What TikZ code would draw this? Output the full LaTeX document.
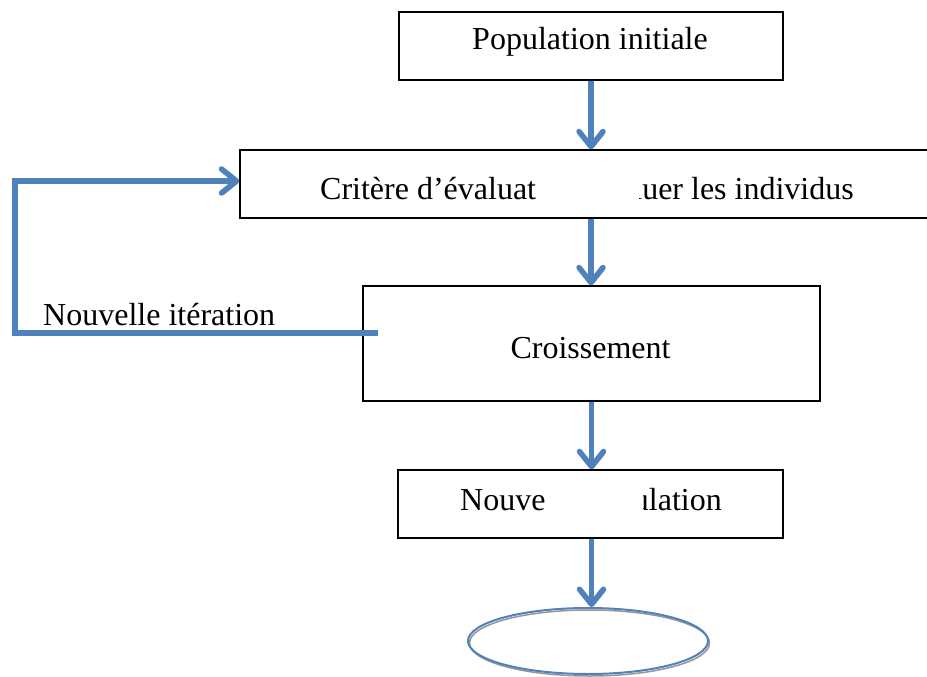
\documentclass[tikz,border=0pt]{standalone}
\usepackage{fontspec}
\setmainfont{Liberation Serif}
\usetikzlibrary{arrows.meta,shapes.geometric}
\definecolor{arrowblue}{RGB}{79,129,189}
\definecolor{shadowgray}{RGB}{150,150,150}
\tikzset{
  box/.style={draw=black, line width=1.5pt, fill=white, rectangle, inner sep=0pt},
  txt/.style={inner sep=0pt, font=\fontsize{32}{38}\selectfont},
  flow/.style={draw=arrowblue, line width=5.5pt,
    -{Straight Barb[length=15pt,width=24pt,line cap=round,line join=round]},
    preaction={draw=shadowgray, transform canvas={shift={(1.8pt,-2pt)}}}},
  loopline/.style={draw=arrowblue, line width=5.5pt,
    preaction={draw=shadowgray, transform canvas={shift={(1.8pt,-2pt)}}}},
}
\begin{document}
\begin{tikzpicture}[x=1pt,y=-1pt]
\useasboundingbox (0,0) rectangle (927,677);
\clip (0,0) rectangle (927,677);
\fill[white] (0,0) rectangle (927,677);

% boxes
\node[box, minimum width=384, minimum height=68] (pop) at (591,46) {};
\node[box, minimum width=740, minimum height=68] (crit) at (610,184) {};
\node[box, minimum width=457, minimum height=115] (sel) at (591.5,343.5) {};
\node[box, minimum width=385, minimum height=68] (nouv) at (590.5,504) {};
\node[ellipse, draw=arrowblue, line width=2pt, minimum width=240, minimum height=66, inner sep=0pt,
  preaction={draw=shadowgray, line width=1.5pt, transform canvas={shift={(1.5pt,-2pt)}}}] (fin) at (588,641) {};

% texts
\node[txt, anchor=base] (tpop) at (590,50) {Population initiale};
\node[txt, anchor=base west] (tcrit1) at (320,199) {Critère d’évaluat};
\begin{scope}
  \clip (639,152) rectangle (927,216);
  \node[txt, anchor=base east] (tcrit2) at (854,199) {luer les individus};
\end{scope}
\node[txt, anchor=base] (tsel) at (590.5,358) {Croissement};
\node[txt, anchor=base west] (tnouv1) at (460,510) {Nouve};
\begin{scope}
  \clip (643,472) rectangle (782,536);
  \node[txt, anchor=base east] (tnouv2) at (722,510) {ulation};
\end{scope}
\node[txt, anchor=base west] (titer) at (43,325) {Nouvelle itération};

% vertical connectors
\draw[flow] (pop.south) -- (pop.south |- crit.north);
\draw[flow] (pop.south |- crit.south) -- (pop.south |- sel.north);
\draw[flow] (sel.south) -- (sel.south |- nouv.north);
\draw[flow] (sel.south |- nouv.south) -- (sel.south |- fin.north);

% feedback loop
\coordinate (fbstart) at (375,333);
\coordinate (fbcorner) at (15,181);
\draw[loopline, line cap=rect] (fbstart) -- (fbstart -| fbcorner) -- (fbcorner);
\draw[flow] (fbcorner) -- ([yshift=3pt]crit.west);
\end{tikzpicture}
\end{document}
